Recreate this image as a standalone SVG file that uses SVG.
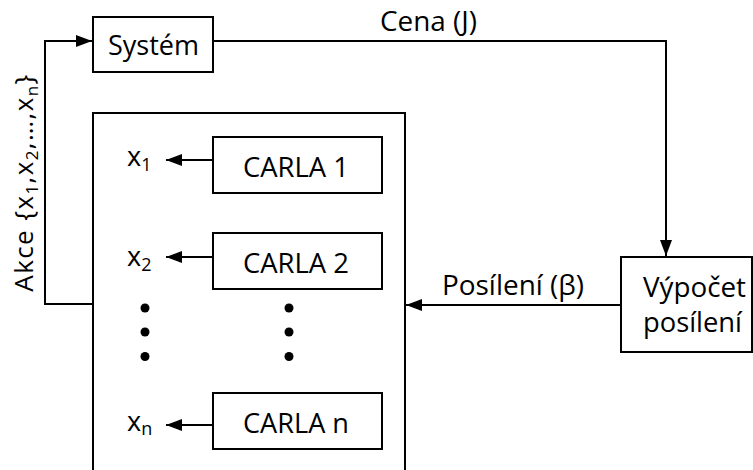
<svg xmlns="http://www.w3.org/2000/svg" width="753" height="470" viewBox="0 0 753 470">
<style>
.box{fill:#fff;stroke:#000;stroke-width:2}
.ln{fill:none;stroke:#000;stroke-width:2}
text{font-family:"Open Sans","Liberation Sans",Arial,sans-serif;font-size:28px;fill:#000}
.lbl{font-size:27px}
.sub{font-size:18px}
.dot{fill:#000}
</style>
<defs>
<marker id="ah" viewBox="0 0 16 12" markerWidth="16" markerHeight="12" refX="16" refY="6" orient="auto" markerUnits="userSpaceOnUse">
<path d="M0,0 L16,6 L0,12 z" fill="#000"/>
</marker>
</defs>
<rect width="753" height="470" fill="#fff"/>
<g id="connectors">
<path class="ln" d="M93,304 H45 V41 H92" marker-end="url(#ah)"/>
<path class="ln" d="M213,41 H666 V256" marker-end="url(#ah)"/>
<path class="ln" d="M621,305 H406" marker-end="url(#ah)"/>
<path class="ln" d="M213,160 H166" marker-end="url(#ah)"/>
<path class="ln" d="M213,257 H166" marker-end="url(#ah)"/>
<path class="ln" d="M213,425 H166" marker-end="url(#ah)"/>
<text x="428.5" y="31" text-anchor="middle" textLength="97" lengthAdjust="spacingAndGlyphs">Cena (J)</text>
<text x="513" y="295" text-anchor="middle" textLength="142" lengthAdjust="spacingAndGlyphs">Posílení (β)</text>
<text transform="translate(33,182.5) rotate(-90)" text-anchor="middle" style="font-size:26px" letter-spacing="1.4">Akce {x<tspan class="sub" style="font-size:17px" dy="5">1</tspan><tspan dy="-5">,x</tspan><tspan class="sub" style="font-size:17px" dy="5">2</tspan><tspan dy="-5">,…,x</tspan><tspan class="sub" style="font-size:17px" dy="5">n</tspan><tspan dy="-5">}</tspan></text>
</g>
<g id="system">
<rect class="box" x="93" y="17" width="120" height="55"/>
<text x="153.5" y="55" text-anchor="middle" textLength="91" lengthAdjust="spacingAndGlyphs">Systém</text>
</g>
<g id="agents">
<path class="ln" d="M93,470 V113 H405 V470"/>
</g>
<g id="carla1">
<rect class="box" x="213" y="137" width="169" height="56"/>
<text x="296" y="177" text-anchor="middle" textLength="106" lengthAdjust="spacingAndGlyphs">CARLA 1</text>
</g>
<g id="carla2">
<rect class="box" x="213" y="233" width="169" height="56"/>
<text x="296" y="273" text-anchor="middle" textLength="106" lengthAdjust="spacingAndGlyphs">CARLA 2</text>
</g>
<g id="carlan">
<rect class="box" x="213" y="393" width="169" height="56"/>
<text x="296" y="433" text-anchor="middle" textLength="106" lengthAdjust="spacingAndGlyphs">CARLA n</text>
</g>
<g id="x1"><text class="lbl" x="127" y="166">x<tspan class="sub" dy="5">1</tspan></text></g>
<g id="x2"><text class="lbl" x="127" y="266">x<tspan class="sub" dy="5">2</tspan></text></g>
<g id="xn"><text class="lbl" x="127" y="431">x<tspan class="sub" dy="4">n</tspan></text></g>
<g id="dots">
<circle class="dot" cx="145" cy="308" r="4.5"/>
<circle class="dot" cx="145" cy="332" r="4.5"/>
<circle class="dot" cx="145" cy="356.5" r="4.5"/>
<circle class="dot" cx="289" cy="308" r="4.5"/>
<circle class="dot" cx="289" cy="332" r="4.5"/>
<circle class="dot" cx="289" cy="356.5" r="4.5"/>
</g>
<g id="vypocet">
<rect class="box" x="621" y="257" width="131" height="95"/>
<text x="694.5" y="297" text-anchor="middle" textLength="103" lengthAdjust="spacingAndGlyphs">Výpočet</text>
<text x="692.5" y="332" text-anchor="middle" textLength="99" lengthAdjust="spacingAndGlyphs">posílení</text>
</g>
</svg>
